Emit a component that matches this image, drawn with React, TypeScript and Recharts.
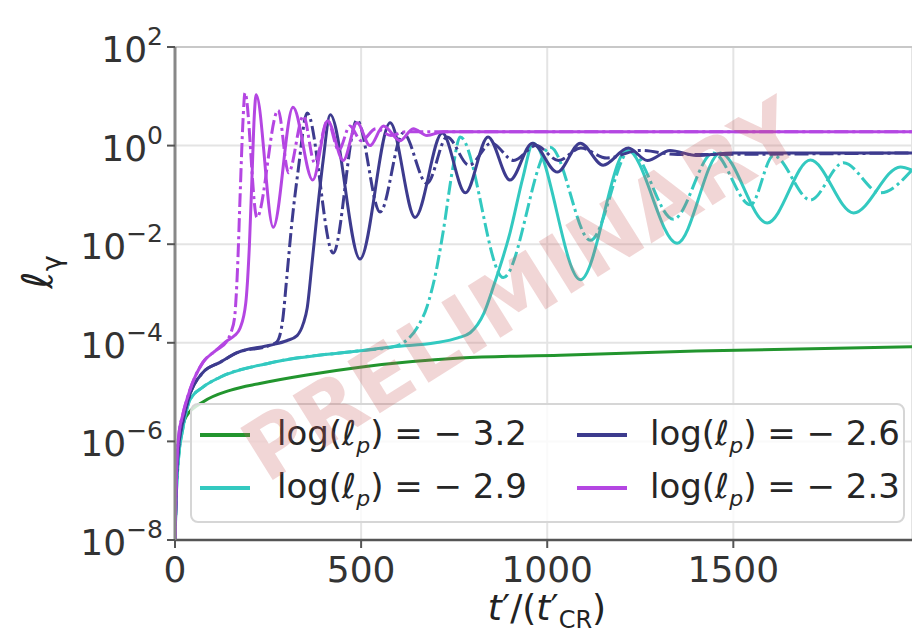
import { CartesianGrid, Line, LineChart, ReferenceLine, XAxis, YAxis } from "recharts";

const FONT = "'DejaVu Sans', sans-serif";

// [t'/(t'_CR), l_gamma]
const greenRise: [number, number][] = [
  [0, 1e-8], [3, 1e-7], [8, 4e-7], [15, 1.26e-6], [30, 3.2e-6], [75, 6.3e-6],
  [150, 1.1e-5], [228, 1.5e-5], [350, 2.2e-5], [497, 3.2e-5], [766, 4.9e-5],
  [1035, 5.6e-5], [1400, 6.8e-5], [1980, 8.3e-5],
];

const cyanRise: [number, number][] = [
  [0, 1e-8], [4, 1e-7], [10, 5e-7], [21, 1.8e-6], [40, 6.9e-6], [75, 1.26e-5],
  [121, 2e-5], [255, 3.9e-5], [505, 7e-5], [586, 8.3e-5],
];
const cyanSolid: [number, number][] = [
  ...cyanRise,
  [700, 1e-4], [760, 1.26e-4], [793, 1.6e-4], [830, 4e-4], [855, 1.35e-3],
  [900, 0.017], [935, 0.23], [962, 1.12], [1089, 1.9e-3], [1215, 0.81],
  [1349, 0.0105], [1465, 0.71], [1591, 0.027], [1707, 0.51], [1823, 0.043],
  [1949, 0.37], [1980, 0.32],
];
const cyanDash: [number, number][] = [
  ...cyanRise,
  [613, 1e-4], [650, 2e-4], [677, 5.4e-4], [700, 2.5e-3], [720, 0.017],
  [747, 0.37], [766, 1.5], [882, 2.1e-3], [1008, 0.93], [1116, 0.012],
  [1223, 0.81], [1339, 0.032], [1446, 0.71], [1546, 0.063], [1608, 0.63],
  [1707, 0.079], [1796, 0.45], [1895, 0.11], [1980, 0.32],
];

const blueRise: [number, number][] = [
  [0, 1e-8], [4, 1.6e-7], [10, 7.9e-7], [21, 2.5e-6], [40, 8.9e-6], [75, 2.5e-5],
  [121, 4e-5], [167, 6.3e-5], [255, 8.9e-5],
];
const blueSolid: [number, number][] = [
  ...blueRise,
  [300, 1.1e-4], [328, 1.4e-4], [345, 2.5e-4], [355, 5e-4], [368, 4e-3],
  [382, 0.043], [398, 0.5], [417, 4.2], [497, 5e-3], [578, 2.9], [645, 0.035],
  [718, 1.8], [780, 0.11], [841, 1.5], [900, 0.2], [960, 1.12], [1027, 0.29],
  [1089, 1.12], [1150, 0.4], [1218, 0.89], [1269, 0.5], [1330, 0.8],
  [1400, 0.63], [1500, 0.71], [1980, 0.71],
];
const blueDash: [number, number][] = [
  ...blueRise,
  [274, 1.05e-4], [290, 3.2e-4], [300, 2e-3], [315, 0.032], [331, 0.32],
  [355, 4.6], [425, 6.6e-3], [489, 3.3], [551, 0.045], [613, 1.8], [677, 0.17],
  [731, 1.5], [790, 0.4], [850, 1.12], [910, 0.5], [970, 1], [1030, 0.5],
  [1090, 0.89], [1160, 0.56], [1250, 0.8], [1350, 0.66], [1980, 0.71],
];

const magentaRise: [number, number][] = [
  [0, 1e-8], [4, 2.5e-7], [10, 1.3e-6], [21, 3.5e-6], [40, 1.1e-5], [75, 4e-5],
  [110, 7e-5], [140, 1.1e-4],
];
const magentaSolid: [number, number][] = [
  ...magentaRise,
  [160, 1.4e-4], [175, 2e-4], [190, 6.3e-4], [200, 1e-2], [207, 0.25], [213, 4],
  [218, 10.7], [264, 0.022], [317, 6], [370, 0.2], [410, 3.2], [452, 0.5],
  [489, 2.9], [524, 1], [560, 2.5], [605, 1.26], [640, 2.2], [677, 1.6],
  [720, 1.9], [1980, 1.9],
];
const magentaDash: [number, number][] = [
  ...magentaRise,
  [150, 1.6e-4], [160, 3.2e-4], [168, 3.2e-3], [175, 0.1], [182, 2.5],
  [188, 11.7], [220, 0.035], [277, 5.2], [305, 0.28], [345, 4], [375, 0.45],
  [410, 3.2], [440, 0.8], [470, 2.5], [500, 1.26], [540, 2.2], [580, 1.6],
  [620, 1.9], [1980, 1.9],
];

const legendValues = ["3.2", "2.9", "2.6", "2.3"];
const xTicks = [0, 500, 1000, 1500];
const yTicks = [1e-8, 1e-6, 1e-4, 1e-2, 1, 100];

const GREEN = "#22952e";
const CYAN = "#33c9c0";
const BLUE = "#3d3b8e";
const MAGENTA = "#b446e2";
const legendColors = [GREEN, CYAN, BLUE, MAGENTA];

const rows = (pts: [number, number][]) => pts.map(([t, v]) => ({ t, v }));

const series = [
  { key: "g", pts: greenRise, color: GREEN, dash: undefined },
  { key: "cs", pts: cyanSolid, color: CYAN, dash: undefined },
  { key: "cd", pts: cyanDash, color: CYAN, dash: "14 4 3 4" },
  { key: "bs", pts: blueSolid, color: BLUE, dash: undefined },
  { key: "bd", pts: blueDash, color: BLUE, dash: "14 4 3 4" },
  { key: "ms", pts: magentaSolid, color: MAGENTA, dash: undefined },
  { key: "md", pts: magentaDash, color: MAGENTA, dash: "14 4 3 4" },
];

function YTick(props: any) {
  const { x, y, payload } = props;
  const exp = Math.round(Math.log10(payload.value));
  const sup = exp < 0 ? `\u2212${-exp}` : String(exp);
  return (
    <text x={x - 2} y={y + 15} textAnchor="end" fill="#333" fontSize={36} fontFamily={FONT}>
      10<tspan dy={-17} fontSize={25}>{sup}</tspan>
    </text>
  );
}

function XTitle() {
  return (
    <text x={547} y={620} textAnchor="middle" fill="#222" fontSize={36} fontFamily={FONT}>
      <tspan fontStyle="italic">t</tspan>′/(<tspan fontStyle="italic">t</tspan>′
      <tspan fontSize={24} dy={8}>CR</tspan>
      <tspan dy={-8}>)</tspan>
    </text>
  );
}

function LegendBox() {
  const item = (i: number) => {
    const col = i < 2 ? 0 : 1;
    const row = i % 2;
    return (
      <div
        key={i}
        style={{
          position: "absolute",
          left: col === 0 ? 8 : 385,
          top: row === 0 ? 5 : 58,
          height: 50,
          display: "flex",
          alignItems: "center",
          whiteSpace: "nowrap",
        }}
      >
        <div style={{ width: 50, height: 4, background: legendColors[i] }} />
        <span style={{ marginLeft: col === 0 ? 27 : 23, fontSize: 34, color: "#262626", fontFamily: FONT }}>
          log(<i>ℓ</i>
          <sub style={{ fontSize: 22, fontStyle: "italic" }}>p</sub>) = {"\u2212"} {legendValues[i]}
        </span>
      </div>
    );
  };
  return (
    <div
      style={{
        position: "absolute",
        left: 190,
        top: 403,
        width: 715,
        height: 120,
        boxSizing: "border-box",
        border: "2px solid #d6d6d6",
        borderRadius: 8,
        background: "rgba(255,255,255,0.8)",
      }}
    >
      {[0, 1, 2, 3].map(item)}
    </div>
  );
}

export default function App() {
  return (
    <div style={{ position: "absolute", left: 0, top: 0, width: 912, height: 638, background: "#fff", overflow: "hidden" }}>
      <LineChart width={912} height={638} margin={{ top: 47, right: 0, bottom: 38, left: 55 }}>
        <CartesianGrid stroke="#e4e4e4" strokeWidth={2} />
        <XAxis
          type="number"
          dataKey="t"
          domain={[0, 1980]}
          ticks={xTicks}
          allowDataOverflow
          height={60}
          tickSize={8}
          tickMargin={8}
          axisLine={{ stroke: "#555", strokeWidth: 2.5 }}
          tickLine={{ stroke: "#555", strokeWidth: 2 }}
          tick={{ fill: "#333", fontSize: 36, fontFamily: FONT }}
          label={<XTitle />}
        />
        <YAxis
          type="number"
          dataKey="v"
          scale="log"
          domain={[1e-8, 100]}
          ticks={yTicks}
          allowDataOverflow
          width={120}
          tickSize={8}
          axisLine={{ stroke: "#888", strokeWidth: 3 }}
          tickLine={{ stroke: "#555", strokeWidth: 2 }}
          tick={<YTick />}
        />
        <ReferenceLine y={100} stroke="#c8c8c8" strokeWidth={2} />
        {series.map((s) => (
          <Line
            key={s.key}
            data={rows(s.pts)}
            dataKey="v"
            type="monotone"
            stroke={s.color}
            strokeWidth={3}
            strokeDasharray={s.dash}
            dot={false}
            activeDot={false}
            isAnimationActive={false}
          />
        ))}
      </LineChart>
      <svg width={912} height={638} style={{ position: "absolute", left: 0, top: 0, pointerEvents: "none" }}>
        <text x={0} y={0} transform="translate(52 272) rotate(-90)" textAnchor="middle" fill="#222" fontSize={42} fontFamily={FONT}>
          <tspan fontStyle="italic">ℓ</tspan>
          <tspan fontSize={27} dy={9}>γ</tspan>
        </text>
      </svg>
      <LegendBox />
      <svg width={912} height={638} style={{ position: "absolute", left: 0, top: 0, pointerEvents: "none" }}>
        <text
          x={0}
          y={0}
          transform="translate(522 290) rotate(-32)"
          textAnchor="middle"
          dominantBaseline="central"
          fill="rgba(200,90,90,0.25)"
          fontSize={84}
          fontWeight="bold"
          fontFamily={FONT}
        >
          PRELIMINARY
        </text>
      </svg>
    </div>
  );
}
